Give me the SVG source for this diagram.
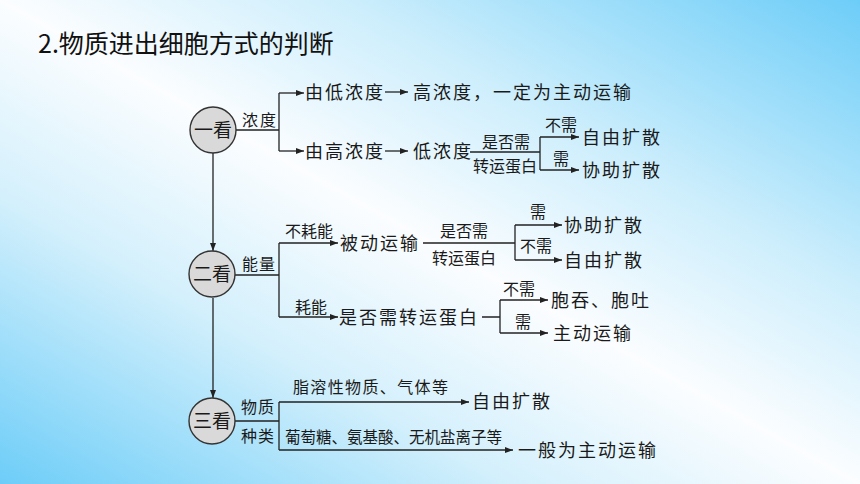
<svg xmlns="http://www.w3.org/2000/svg" width="860" height="484" viewBox="0 0 860 484">
<defs>
<linearGradient id="bg" x1="1" y1="0" x2="0" y2="1">
<stop offset="0" stop-color="#6dcdf8"/>
<stop offset="0.3" stop-color="#cdeefc"/>
<stop offset="0.5" stop-color="#fbfdff"/>
<stop offset="0.7" stop-color="#d4f0fc"/>
<stop offset="1" stop-color="#6dcdf8"/>
</linearGradient>
<marker id="arr" markerUnits="userSpaceOnUse" markerWidth="8" markerHeight="6" refX="8" refY="3" orient="auto">
<path d="M0,0 L8,3 L0,6 z" fill="#222"/>
</marker>
</defs>
<style>
.t{font-family:"Noto Sans CJK SC","Liberation Sans",sans-serif;fill:#1a1a1a;}
.m{font-size:18px;letter-spacing:2px;}
.s{font-size:16px;}
.c{font-size:19px;text-anchor:middle;}
.title{font-family:"Noto Sans CJK SC","Liberation Sans",sans-serif;font-size:25px;fill:#111;}
.ln{fill:none;stroke:#222;stroke-width:1.3;}
.ar{marker-end:url(#arr);}
.circ{fill:#d9d9d9;stroke:#333;stroke-width:1.4;}
</style>
<rect x="0" y="0" width="860" height="484" fill="url(#bg)"/>
<text class="title" x="38" y="53">2.物质进出细胞方式的判断</text>

<g id="connectors">
<path class="ln" d="M236,130 H279 M279,93 V151"/>
<path class="ln ar" d="M279,93 H304"/>
<path class="ln ar" d="M279,151 H304"/>
<path class="ln ar" d="M385,92 H408"/>
<path class="ln ar" d="M385,151 H408"/>
<path class="ln" d="M470,152 H540 M540,137 V170"/>
<path class="ln ar" d="M540,137 H579"/>
<path class="ln ar" d="M540,170 H579"/>
<path class="ln ar" d="M213,153 V251"/>
<path class="ln" d="M235,275 H279 M279,243 V317"/>
<path class="ln ar" d="M279,243 H338"/>
<path class="ln ar" d="M279,317 H338"/>
<path class="ln" d="M423,243 H515 M515,225 V260"/>
<path class="ln ar" d="M515,225 H562"/>
<path class="ln ar" d="M515,260 H562"/>
<path class="ln" d="M482,317 H500 M500,300 V333"/>
<path class="ln ar" d="M500,300 H548"/>
<path class="ln ar" d="M500,333 H548"/>
<path class="ln ar" d="M213,298 V398"/>
<path class="ln" d="M235,421 H279 M279,402 V450"/>
<path class="ln ar" d="M279,402 H469"/>
<path class="ln ar" d="M279,450 H513"/>
</g>

<g id="n-look1"><circle class="circ" cx="213" cy="130" r="23"/><text class="t c" x="213" y="137">一看</text></g>
<g id="n-look2"><circle class="circ" cx="212" cy="274" r="23"/><text class="t c" x="212" y="281">二看</text></g>
<g id="n-look3"><circle class="circ" cx="212" cy="421" r="23"/><text class="t c" x="212" y="428">三看</text></g>

<g id="l-nongdu"><text class="t s" x="242" y="126" letter-spacing="2">浓度</text></g>
<g id="n-low-high"><text class="t m" x="305" y="99">由低浓度</text></g>
<g id="n-high-active"><text class="t m" x="413" y="99">高浓度，一定为主动运输</text></g>
<g id="n-high-low"><text class="t m" x="305" y="158">由高浓度</text></g>
<g id="n-low"><text class="t m" x="413" y="158">低浓度</text></g>
<g id="l-q1"><text class="t s" x="482" y="148">是否需</text><text class="t s" x="473" y="172">转运蛋白</text></g>
<g id="l-no1"><text class="t s" x="545" y="131">不需</text></g>
<g id="l-yes1"><text class="t s" x="553" y="165">需</text></g>
<g id="n-free1"><text class="t m" x="582" y="144">自由扩散</text></g>
<g id="n-facil1"><text class="t m" x="582" y="177">协助扩散</text></g>

<g id="l-energy"><text class="t s" x="242" y="270" letter-spacing="1">能量</text></g>
<g id="l-noenergy"><text class="t s" x="285" y="237">不耗能</text></g>
<g id="n-passive"><text class="t m" x="340" y="250">被动运输</text></g>
<g id="l-q2"><text class="t s" x="440" y="237">是否需</text><text class="t s" x="432" y="264">转运蛋白</text></g>
<g id="l-yes2"><text class="t s" x="530" y="218">需</text></g>
<g id="l-no2"><text class="t s" x="520" y="252">不需</text></g>
<g id="n-facil2"><text class="t m" x="564" y="232">协助扩散</text></g>
<g id="n-free2"><text class="t m" x="564" y="267">自由扩散</text></g>
<g id="l-energy2"><text class="t s" x="295" y="313">耗能</text></g>
<g id="n-q3"><text class="t m" x="339" y="324">是否需转运蛋白</text></g>
<g id="l-no3"><text class="t s" x="503" y="295">不需</text></g>
<g id="l-yes3"><text class="t s" x="515" y="328">需</text></g>
<g id="n-endo"><text class="t m" x="551" y="307">胞吞、胞吐</text></g>
<g id="n-active2"><text class="t m" x="553" y="340">主动运输</text></g>

<g id="l-kind"><text class="t s" x="241" y="413" letter-spacing="1">物质</text><text class="t s" x="241" y="442" letter-spacing="1">种类</text></g>
<g id="l-lipid"><text class="t s" x="293" y="393" textLength="155" lengthAdjust="spacing">脂溶性物质、气体等</text></g>
<g id="n-free3"><text class="t m" x="472" y="408">自由扩散</text></g>
<g id="l-glucose"><text class="t s" x="285" y="443" textLength="217" lengthAdjust="spacingAndGlyphs">葡萄糖、氨基酸、无机盐离子等</text></g>
<g id="n-active3"><text class="t m" x="518" y="457">一般为主动运输</text></g>
</svg>
